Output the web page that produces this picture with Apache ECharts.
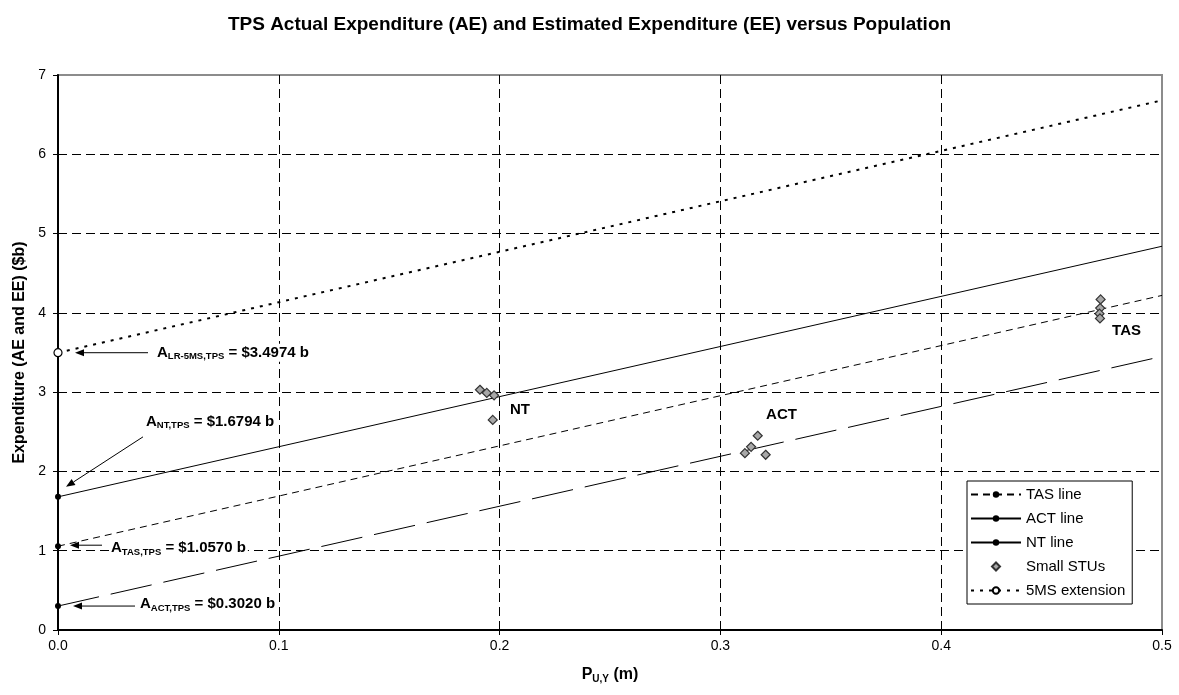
<!DOCTYPE html>
<html><head><meta charset="utf-8">
<script src="https://cdn.jsdelivr.net/npm/echarts@6/dist/echarts.min.js"></script>
<style>html,body{margin:0;padding:0;background:#fff}#c{width:1179px;height:695px}</style>
</head><body><div id="c"></div>
<script>
// ---- data ----
const xTickValues = [0, 0.1, 0.2, 0.3, 0.4, 0.5];
const yTickValues = [0, 1, 2, 3, 4, 5, 6, 7];
const tasLine = [[0, 1.0570], [0.5, 4.22]];
const actLine = [[0, 0.3020], [0.5, 3.45]];
const ntLine  = [[0, 1.6794], [0.5, 4.84]];
const ext5MS  = [[0, 3.4974], [0.5, 6.68]];
const smallSTUs = [
  [0.1911, 3.03], [0.1942, 2.99], [0.1975, 2.96], [0.1969, 2.65],
  [0.3169, 2.45], [0.3139, 2.31], [0.3111, 2.23], [0.3205, 2.21],
  [0.4722, 4.17], [0.4720, 4.06], [0.4717, 3.99], [0.4719, 3.93]
];
const stuNames = ['NT', 'ACT', 'TAS'];
const stuNameAnchors = [[0.2047, 2.78], [0.3207, 2.71], [0.4774, 3.77]];
const interceptSubs = ['LR-5MS,TPS', 'NT,TPS', 'TAS,TPS', 'ACT,TPS'];
const interceptVals = [3.4974, 1.6794, 1.0570, 0.3020];
const legendNames = ['TAS line', 'ACT line', 'NT line', 'Small STUs', '5MS extension'];

const FONT = "'Liberation Sans', Arial, Helvetica, sans-serif";
const chart = echarts.init(document.getElementById('c'), null, {renderer: 'canvas'});

function lineData(arr) {
  return arr.map((p, i) => i === 0 ? {value: p} : {value: p, symbol: 'none'});
}
const dotStyle = {color: '#000', borderColor: '#000', borderWidth: 0};

const option = {
  animation: false,
  backgroundColor: '#fff',
  title: {
    text: 'TPS Actual Expenditure (AE) and Estimated Expenditure (EE) versus Population',
    left: 'center', top: 10,
    textStyle: {fontFamily: FONT, fontSize: 19, fontWeight: 'bold', color: '#000'}
  },
  grid: {left: 58, right: 17, top: 75, bottom: 65, show: true,
         borderColor: '#8c8c8c', borderWidth: 2, backgroundColor: 'transparent'},
  xAxis: {
    type: 'value', min: 0, max: 0.5, interval: 0.1,
    name: '{p|P}{s|U,Y}{p| (m)}', nameLocation: 'middle', nameGap: 36,
    nameTextStyle: {rich: {
      p: {fontFamily: FONT, fontSize: 16, fontWeight: 'bold', color: '#000', lineHeight: 18, verticalAlign: 'middle'},
      s: {fontFamily: FONT, fontSize: 10, fontWeight: 'bold', color: '#000', lineHeight: 10, verticalAlign: 'bottom'}
    }},
    axisLine: {show: true, onZero: false, lineStyle: {color: '#000', width: 2}},
    axisTick: {show: true, length: 5, lineStyle: {color: '#000', width: 1}},
    axisLabel: {fontFamily: FONT, fontSize: 14, color: '#000', margin: 9,
                formatter: v => v.toFixed(1)},
    splitLine: {show: true, showMinLine: false, showMaxLine: false,
                lineStyle: {color: '#000', width: 1, type: [9, 5]}}
  },
  yAxis: {
    type: 'value', min: 0, max: 7, interval: 1,
    name: 'Expenditure (AE and EE) ($b)', nameLocation: 'middle', nameGap: 23,
    nameTextStyle: {fontFamily: FONT, fontSize: 16, fontWeight: 'bold', color: '#000'},
    axisLine: {show: true, onZero: false, lineStyle: {color: '#000', width: 2}},
    axisTick: {show: true, length: 5, lineStyle: {color: '#000', width: 1}},
    axisLabel: {fontFamily: FONT, fontSize: 14, color: '#000', margin: 12},
    splitLine: {show: true, showMinLine: false, showMaxLine: false,
                lineStyle: {color: '#000', width: 1, type: [9, 5]}}
  },
  legend: {
    orient: 'vertical', left: 967, top: 481,
    backgroundColor: '#fff', borderColor: '#000', borderWidth: 1, borderRadius: 0,
    padding: [6, 7, 6, 3], itemWidth: 50, itemHeight: 8, itemGap: 9,
    symbolKeepAspect: true,
    textStyle: {fontFamily: FONT, fontSize: 15, color: '#000'},
    data: [
      {name: legendNames[0]},
      {name: legendNames[1], lineStyle: {type: 'solid'}},
      {name: legendNames[2]},
      {name: legendNames[3], icon: 'path://M0,-5L5,0L0,5L-5,0Z'},
      {name: legendNames[4]}
    ]
  },
  series: [
    {name: legendNames[0], type: 'line', data: lineData(tasLine), symbol: 'circle', symbolSize: 6,
     itemStyle: dotStyle, lineStyle: {color: '#000', width: 1, type: [7, 5]}, z: 3},
    {name: legendNames[1], type: 'line', data: lineData(actLine), symbol: 'circle', symbolSize: 6,
     itemStyle: dotStyle, lineStyle: {color: '#000', width: 1, type: [42, 12]}, z: 3},
    {name: legendNames[2], type: 'line', data: lineData(ntLine), symbol: 'circle', symbolSize: 6,
     itemStyle: dotStyle, lineStyle: {color: '#000', width: 1, type: 'solid'}, z: 3},
    {name: legendNames[3], type: 'scatter', data: smallSTUs, symbol: 'diamond', symbolSize: 9,
     itemStyle: {color: '#a8a8a8', borderColor: '#333', borderWidth: 1.2, opacity: 1}, z: 4},
    {name: legendNames[4], type: 'line', data: lineData(ext5MS), symbol: 'circle', symbolSize: 8,
     itemStyle: {color: '#fff', borderColor: '#000', borderWidth: 1.2},
     lineStyle: {color: '#000', width: 2, type: [3, 6]}, z: 3}
  ]
};
chart.setOption(option);

// ---- annotations positioned from data coordinates ----
const annotOffsets = [
  {tip: [17, 0],  tail: [90, 0],   text: [97, 0]},
  {tip: [8, -10], tail: [85, -60], text: [86, -75]},
  {tip: [12, -1], tail: [44, -1],  text: [51, 2]},
  {tip: [15, 0],  tail: [77, 0],   text: [80, -2]}
];
const richA = {
  a: {fontFamily: FONT, fontSize: 15, fontWeight: 'bold', fill: '#000', lineHeight: 18, verticalAlign: 'middle'},
  s: {fontFamily: FONT, fontSize: 9.5, fontWeight: 'bold', fill: '#000', lineHeight: 10, verticalAlign: 'bottom'}
};
const graphics = [];
interceptVals.forEach((v, i) => {
  const p = chart.convertToPixel({gridIndex: 0}, [0, v]);
  const o = annotOffsets[i];
  const tip = [p[0] + o.tip[0], p[1] + o.tip[1]];
  const tail = [p[0] + o.tail[0], p[1] + o.tail[1]];
  const dx = tip[0] - tail[0], dy = tip[1] - tail[1];
  const len = Math.sqrt(dx * dx + dy * dy);
  const ux = dx / len, uy = dy / len;
  const hl = 9, hw = 3.5;
  const bx = tip[0] - ux * hl, by = tip[1] - uy * hl;
  graphics.push({type: 'text', z: 9, silent: true,
    style: {x: p[0] + o.text[0], y: p[1] + o.text[1],
      text: '{a|A}{s|' + interceptSubs[i] + '}{a| = $' + v.toFixed(4) + ' b}',
      rich: richA, verticalAlign: 'middle', align: 'left',
      backgroundColor: '#fff', padding: [0, 2, 0, 2]}});
  graphics.push({type: 'line', z: 10, silent: true,
    shape: {x1: tail[0], y1: tail[1], x2: bx, y2: by},
    style: {stroke: '#000', lineWidth: 1}});
  graphics.push({type: 'polygon', z: 10, silent: true,
    shape: {points: [tip, [bx - uy * hw, by + ux * hw], [bx + uy * hw, by - ux * hw]]},
    style: {fill: '#000'}});
});
stuNames.forEach((n, i) => {
  const p = chart.convertToPixel({gridIndex: 0}, stuNameAnchors[i]);
  graphics.push({type: 'text', z: 10, silent: true,
    style: {x: p[0], y: p[1], text: n, fill: '#000',
      font: 'bold 15px ' + FONT, verticalAlign: 'middle', align: 'left'}});
});
chart.setOption({graphic: graphics});
</script>
</body></html>
